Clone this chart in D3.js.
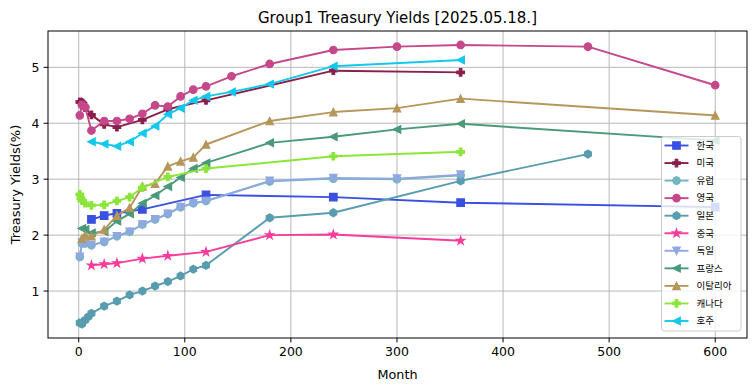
<!DOCTYPE html>
<html><head><meta charset="utf-8">
<script src="https://cdn.jsdelivr.net/npm/d3@7/dist/d3.min.js"></script>
<style>body{margin:0;background:#fff}svg{display:block}</style>
</head><body><svg id="c" width="755" height="391"></svg>
<script>
// ---- data ----
const seriesNames = ["한국","미국","유럽","영국","일본","중국","독일","프랑스","이탈리아","캐나다","호주"];
const xTicks = [0,100,200,300,400,500,600];
const yTicks = [1,2,3,4,5];

const krMonths = [12,24,36,60,120,240,360,600];
const krYields = [2.28,2.35,2.39,2.46,2.72,2.68,2.58,2.50];

const usMonths = [1,2,3,4,6,12,24,36,60,84,120,240,360];
const usYields = [4.38,4.38,4.37,4.35,4.28,4.15,3.98,3.93,4.06,4.25,4.41,4.94,4.91];

const euMonths = [1,3,6,12,24,36,48,60,72,84,96,108,120,180,240,300,360];
const euYields = [1.61,1.85,1.85,1.82,1.88,1.98,2.06,2.19,2.28,2.38,2.50,2.57,2.61,2.96,3.01,3.00,3.07];

const ukMonths = [1,3,6,12,24,36,48,60,72,84,96,108,120,144,180,240,300,360,480,600];
const ukYields = [4.14,4.33,4.29,3.87,4.04,4.04,4.08,4.17,4.32,4.30,4.48,4.60,4.66,4.84,5.06,5.31,5.37,5.40,5.37,4.68];

const jpMonths = [1,3,6,9,12,24,36,48,60,72,84,96,108,120,180,240,360,480];
const jpYields = [0.43,0.41,0.48,0.54,0.60,0.73,0.82,0.93,1.00,1.09,1.17,1.27,1.39,1.46,2.31,2.40,2.97,3.45];

const cnMonths = [12,24,36,60,84,120,180,240,360];
const cnYields = [1.46,1.48,1.50,1.58,1.63,1.70,2.00,2.01,1.90];

const deMonths = [1,3,6,12,24,36,48,60,72,84,96,108,120,180,240,300,360];
const deYields = [1.61,1.86,1.85,1.82,1.88,1.98,2.06,2.19,2.28,2.38,2.50,2.57,2.61,2.97,3.02,3.01,3.08];

const frMonths = [3,6,12,24,36,48,60,72,84,96,108,120,180,240,300,360,600];
const frYields = [2.12,2.10,2.04,2.06,2.25,2.38,2.57,2.71,2.87,3.03,3.19,3.29,3.65,3.76,3.89,3.99,3.69];

const itMonths = [3,6,12,24,36,48,60,72,84,96,108,120,180,240,300,360,600];
const itYields = [1.94,2.00,1.98,2.10,2.35,2.49,2.87,2.92,3.23,3.32,3.39,3.62,4.04,4.20,4.27,4.44,4.14];

const caMonths = [1,2,3,6,12,24,36,48,60,84,120,240,360];
const caYields = [2.73,2.66,2.62,2.57,2.53,2.54,2.61,2.68,2.85,3.04,3.19,3.41,3.49];

const auMonths = [12,24,36,48,60,72,84,96,108,120,144,180,240,360];
const auYields = [3.67,3.63,3.59,3.67,3.82,3.95,4.16,4.27,4.41,4.48,4.56,4.70,5.02,5.13];

// ---- styling ----
const colors = ["#3a50e0","#8a1f4c","#74b6c0","#c4488a","#579caf","#f83c9c","#90a8e2","#4a9a7a","#b5975a","#8ce53a","#14c8ec"];
const markers = ["s","P","o","o","h","*","v","<","^","P","<"];
const monthsList = [krMonths,usMonths,euMonths,ukMonths,jpMonths,cnMonths,deMonths,frMonths,itMonths,caMonths,auMonths];
const yieldsList = [krYields,usYields,euYields,ukYields,jpYields,cnYields,deYields,frYields,itYields,caYields,auYields];

const series = seriesNames.map((n,i)=>({name:n,color:colors[i],marker:markers[i],
  pts:monthsList[i].map((m,j)=>({x:m,y:yieldsList[i][j]}))}));

const W=755,H=391, L=48, R=747, T=31, B=338;
const allX = monthsList.flat(), allY = yieldsList.flat();
const xmin=d3.min(allX), xmax=d3.max(allX), ymin=d3.min(allY), ymax=d3.max(allY);
const xm=(xmax-xmin)*0.05, ym=(ymax-ymin)*0.05;
const x=d3.scaleLinear().domain([xmin-xm,xmax+xm]).range([L,R]);
const y=d3.scaleLinear().domain([ymin-ym,ymax+ym]).range([B,T]);

const svg=d3.select("#c");
const FONT="DejaVu Sans, sans-serif";

// grid
svg.append("g").selectAll("line").data(xTicks).join("line")
  .attr("x1",d=>x(d)).attr("x2",d=>x(d)).attr("y1",T).attr("y2",B)
  .attr("stroke","#b0b0b0").attr("stroke-width",0.9);
svg.append("g").selectAll("line").data(yTicks).join("line")
  .attr("y1",d=>y(d)).attr("y2",d=>y(d)).attr("x1",L).attr("x2",R)
  .attr("stroke","#b0b0b0").attr("stroke-width",0.9);

function markerPath(type, s){
  const h=s/2;
  switch(type){
    case "s": return `M${-h},${-h}H${h}V${h}H${-h}Z`;
    case "o": return d3.symbol().type(d3.symbolCircle).size(Math.PI*h*h)();
    case "^": return `M0,${-h}L${h},${h}L${-h},${h}Z`;
    case "v": return `M0,${h}L${-h},${-h}L${h},${-h}Z`;
    case "<": return `M${-h},0L${h},${-h}L${h},${h}Z`;
    case "P": { const a=s/6; return `M${-a},${-h}H${a}V${-a}H${h}V${a}H${a}V${h}H${-a}V${a}H${-h}V${-a}H${-a}Z`; }
    case "h": { let p=[]; for(let k=0;k<6;k++){const t=-Math.PI/2+k*Math.PI/3; p.push([h*Math.cos(t),h*Math.sin(t)]);} return "M"+p.map(q=>q.join(",")).join("L")+"Z"; }
    case "*": { let p=[]; const ri=h*0.381966; for(let k=0;k<10;k++){const t=-Math.PI/2+k*Math.PI/5; const r=k%2?ri:h; p.push([r*Math.cos(t),r*Math.sin(t)]);} return "M"+p.map(q=>q.join(",")).join("L")+"Z"; }
  }
}
const MS=7.5, SW=1.2;
function msize(t){ return t==="*"?MS*1.15 : (t==="h"?MS*1.05:MS); }

const line=d3.line().x(d=>x(d.x)).y(d=>y(d.y));
series.forEach(s=>{
  const g=svg.append("g");
  g.append("path").attr("d",line(s.pts)).attr("fill","none").attr("stroke",s.color)
    .attr("stroke-width",1.9).attr("stroke-linejoin","round").attr("stroke-linecap","square");
  g.selectAll("path.m").data(s.pts).join("path").attr("class","m")
    .attr("transform",d=>`translate(${x(d.x)},${y(d.y)})`)
    .attr("d",markerPath(s.marker,msize(s.marker)))
    .attr("fill",s.color).attr("stroke",s.color).attr("stroke-width",SW).attr("stroke-linejoin","miter");
});

// spines
svg.append("rect").attr("x",L).attr("y",T).attr("width",R-L).attr("height",B-T)
  .attr("fill","none").attr("stroke","#000").attr("stroke-width",1);

// axes ticks
const xa=svg.append("g").attr("transform",`translate(0,${B})`);
xTicks.forEach(t=>{
  xa.append("line").attr("x1",x(t)).attr("x2",x(t)).attr("y1",0).attr("y2",4.4).attr("stroke","#000");
  xa.append("text").attr("x",x(t)).attr("y",18).attr("text-anchor","middle")
    .attr("font-family",FONT).attr("font-size",12.5).attr("fill","#000").text(t);
});
const ya=svg.append("g").attr("transform",`translate(${L},0)`);
yTicks.forEach(t=>{
  ya.append("line").attr("x1",-4.4).attr("x2",0).attr("y1",y(t)).attr("y2",y(t)).attr("stroke","#000");
  ya.append("text").attr("x",-8.5).attr("y",y(t)).attr("dy","0.36em").attr("text-anchor","end")
    .attr("font-family",FONT).attr("font-size",12.5).attr("fill","#000").text(t);
});

// labels
svg.append("text").attr("x",(L+R)/2).attr("y",22.5).attr("text-anchor","middle")
  .attr("font-family",FONT).attr("font-size",15).text("Group1 Treasury Yields [2025.05.18.]");
svg.append("text").attr("x",(L+R)/2).attr("y",379).attr("text-anchor","middle")
  .attr("font-family",FONT).attr("font-size",12.8).text("Month");
svg.append("text").attr("transform",`translate(20,${(T+B)/2}) rotate(-90)`).attr("text-anchor","middle")
  .attr("font-family",FONT).attr("font-size",13).text("Treasury Yields(%)");

// legend
const lg=svg.append("g");
lg.append("rect").attr("x",661.5).attr("y",136.5).attr("width",79.5).attr("height",194.5).attr("rx",2.5)
  .attr("fill","#fff").attr("fill-opacity",0.8).attr("stroke","#cccccc").attr("stroke-width",1);
series.forEach((s,i)=>{
  const yy=145.5+i*17.55;
  lg.append("line").attr("x1",664.5).attr("x2",688.5).attr("y1",yy).attr("y2",yy)
    .attr("stroke",s.color).attr("stroke-width",1.9);
  lg.append("path").attr("transform",`translate(676.5,${yy})`).attr("d",markerPath(s.marker,msize(s.marker)))
    .attr("fill",s.color).attr("stroke",s.color).attr("stroke-width",SW);
  lg.append("text").attr("x",696.5).attr("y",yy).attr("dy","0.35em")
    .attr("font-family","Noto Sans CJK KR, sans-serif").attr("font-size",9.5).attr("fill","#000").text(s.name);
});
</script></body></html>
